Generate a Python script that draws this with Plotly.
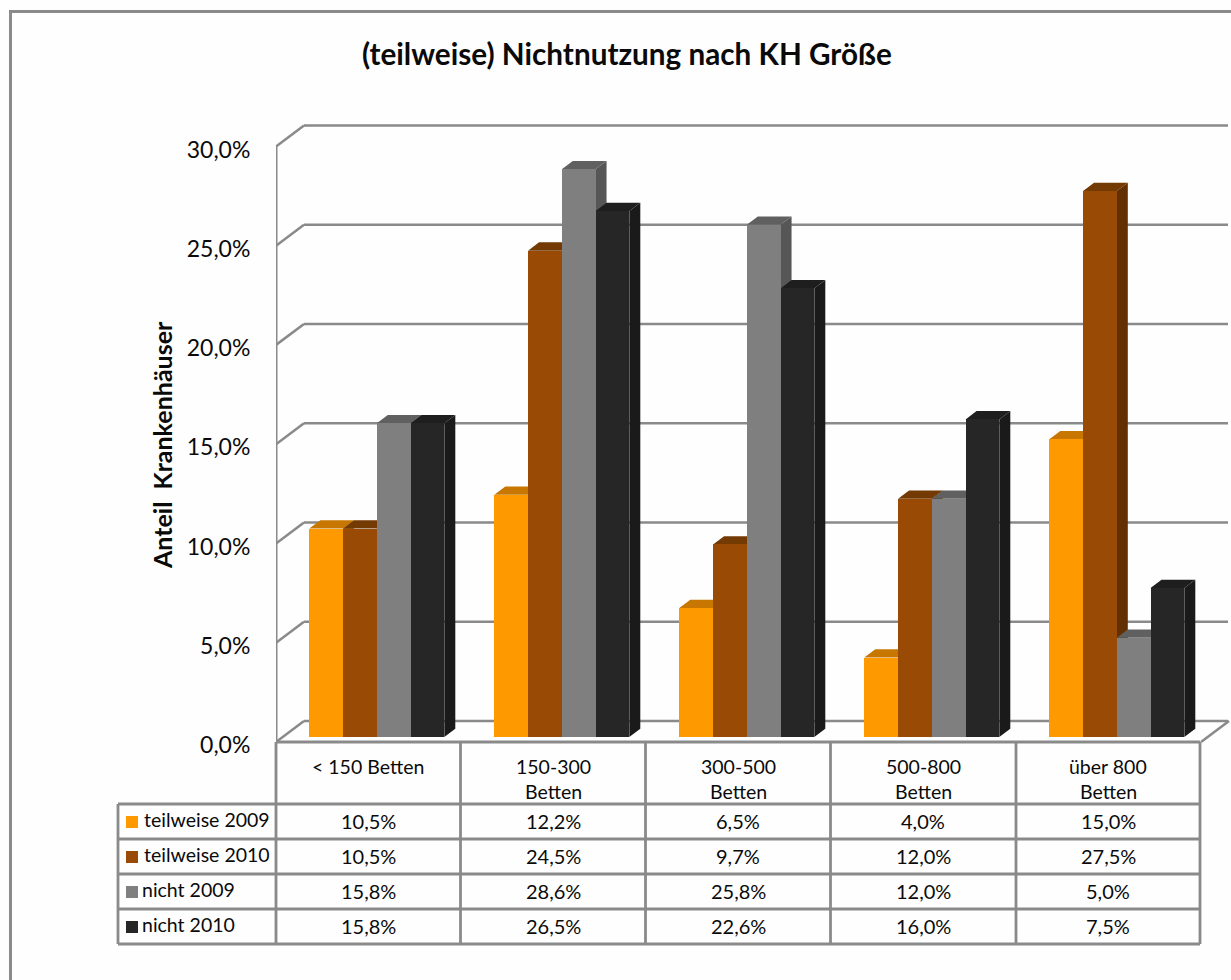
import plotly.graph_objects as go

# Chart data
categories = ["< 150 Betten", "150-300<br>Betten", "300-500<br>Betten", "500-800<br>Betten", "über 800<br>Betten"]
series_names = ["teilweise 2009", "teilweise 2010", "nicht 2009", "nicht 2010"]
teilweise_2009 = [10.5, 12.2, 6.5, 4.0, 15.0]
teilweise_2010 = [10.5, 24.5, 9.7, 12.0, 27.5]
nicht_2009 = [15.8, 28.6, 25.8, 12.0, 5.0]
nicht_2010 = [15.8, 26.5, 22.6, 16.0, 7.5]
y_ticks = [0, 5, 10, 15, 20, 25, 30]

series = [teilweise_2009, teilweise_2010, nicht_2009, nicht_2010]
front_colors = ["#FF9900", "#994B05", "#7F7F7F", "#262626"]
top_colors = ["#C77700", "#743A03", "#606060", "#1E1E1E"]
side_colors = ["#B36B00", "#622F00", "#565656", "#1A1A1A"]
line_gray = "#8A8A8A"
font = "Lato"

W, H = 1231, 980

# Pixel anchors of the plotting box: front axis at x0, 0 % at y0
x0, y0 = 276, 742
px_per_cat, px_per_pct = 185.0, 19.85


def paper_x(px):
    return px / W


def paper_y(py):
    return 1 - py / H


def pct(v):
    return f"{v:.1f}".replace(".", ",") + "%"


# Oblique projection offsets, in axis units
wall_dx, wall_dy = 28 / px_per_cat, 21 / px_per_pct
bar_dx, bar_dy = 11 / px_per_cat, 8.3 / px_per_pct
bar_base = 5 / px_per_pct
bar_w = 33.75 / px_per_cat
first_offset = -59.2 / px_per_cat

x_lo = -0.5
x_hi = x_lo + (W - x0) / px_per_cat
y_lo = (y0 - H) / px_per_pct
y_hi = y0 / px_per_pct

shapes = []


def poly(points, fill):
    path = "M " + " L ".join(f"{a:.5f},{b:.5f}" for a, b in points) + " Z"
    shapes.append(dict(type="path", path=path, xref="x", yref="y", layer="below",
                       fillcolor=fill, line=dict(width=0)))


def seg(a, b, c, d, width=2.6):
    shapes.append(dict(type="line", xref="x", yref="y", layer="below", x0=a, y0=b, x1=c, y1=d,
                       line=dict(color=line_gray, width=width)))


# Wall gridlines with their slanted run back from the front axis
wall_right = x_hi - 3 / px_per_cat
for t in y_ticks:
    seg(x_lo, t, x_lo + wall_dx, t + wall_dy)
    seg(x_lo + wall_dx, t + wall_dy, wall_right, t + wall_dy)
seg(x_lo, 0, x_lo, 30, 3)
seg(4.5, 0, 4.5 + wall_dx, wall_dy)

# Top and side faces, painted left to right; the bar traces sit above them
fig = go.Figure()
for k, values in enumerate(series):
    offset = first_offset + k * bar_w
    fig.add_trace(go.Bar(
        x=list(range(len(categories))), y=values, base=bar_base, width=bar_w, offset=offset,
        name=series_names[k], marker=dict(color=front_colors[k], line=dict(width=0)),
        showlegend=False, hovertemplate="%{y:.1f}%<extra>" + series_names[k] + "</extra>",
    ))
for c in range(len(categories)):
    for k, values in enumerate(series):
        left = c + first_offset + k * bar_w
        right = left + bar_w
        top = values[c] + bar_base
        poly([(right, bar_base), (right + bar_dx, bar_base + bar_dy),
              (right + bar_dx, top + bar_dy), (right, top)], side_colors[k])
        poly([(left, top), (right, top), (right + bar_dx, top + bar_dy),
              (left + bar_dx, top + bar_dy)], top_colors[k])


def paper_line(a, b, c, d, width=2.8):
    shapes.append(dict(type="line", xref="paper", yref="paper",
                       x0=paper_x(a), y0=paper_y(b), x1=paper_x(c), y1=paper_y(d),
                       line=dict(color=line_gray, width=width)))


# Outer frame (left and top edges)
paper_line(10.5, 11.5, 10.5, H, 3)
paper_line(9, 11.5, W, 11.5, 3)

# Data table grid
col_x = [276, 460.5, 645.5, 830.5, 1016, 1200]
row_y = [804, 839, 874, 909, 944]
paper_line(276, 742, 1200, 742, 3)
for i, yy in enumerate(row_y):
    paper_line(118, yy, 1200, yy)
for xx in col_x:
    paper_line(xx, 742, xx, 944)
paper_line(118, 804, 118, 944)

annotations = []


def label(px, py, text, size=18, anchor="center", angle=0, weight=400, color="#0A0A0A"):
    annotations.append(dict(xref="paper", yref="paper", x=paper_x(px), y=paper_y(py), text=text,
                            showarrow=False, xanchor=anchor, yanchor="middle", textangle=angle,
                            font=dict(family=font, size=size, color=color, weight=weight),
                            align="center"))


# Header row, legend column and value cells
for c, name in enumerate(categories):
    cx = (col_x[c] + col_x[c + 1]) / 2
    parts = name.replace("<", "&lt;", 1) if name.startswith("<") else name
    parts = parts.split("<br>")
    if len(parts) == 1:
        label(cx, 766, parts[0], 19.5)
    else:
        label(cx, 766, parts[0], 19.5)
        label(cx, 791, parts[1], 19.5)

label_x = [142, 142, 140, 140]
for k, name in enumerate(series_names):
    cy = (row_y[k] + row_y[k + 1]) / 2
    shapes.append(dict(type="rect", xref="paper", yref="paper",
                       x0=paper_x(126), x1=paper_x(138), y0=paper_y(cy - 5.5), y1=paper_y(cy + 6.5),
                       fillcolor=front_colors[k], line=dict(width=0)))
    label(label_x[k], cy - 2, name, 19.5, anchor="left")
    for c, v in enumerate(series[k]):
        label((col_x[c] + col_x[c + 1]) / 2, cy - 1, pct(v), 20)

label(626.5, 54, "(teilweise) Nichtnutzung nach KH Größe", 29.7, weight=700)
label(162, 445, "Anteil  Krankenhäuser", 25, angle=-90, weight=700)

fig.update_layout(
    width=W, height=H, margin=dict(l=0, r=0, t=0, b=0),
    paper_bgcolor="#FEFEFE", plot_bgcolor="rgba(0,0,0,0)",
    shapes=shapes, annotations=annotations, bargap=0, showlegend=False,
    xaxis=dict(domain=[x0 / W, 1], range=[x_lo, x_hi], visible=False, fixedrange=True),
    yaxis=dict(domain=[0, 1], range=[y_lo, y_hi], tickvals=y_ticks, ticktext=[pct(t) for t in y_ticks],
               showgrid=False, zeroline=False, showline=False, ticks="outside", ticklen=25,
               ticklabelstandoff=-5, ticklabelshift=3,
               tickcolor="rgba(0,0,0,0)", tickfont=dict(family=font, size=23, color="#0A0A0A"),
               fixedrange=True, automargin=False),
)
fig.write_html("out.html", config=dict(displayModeBar=False))
